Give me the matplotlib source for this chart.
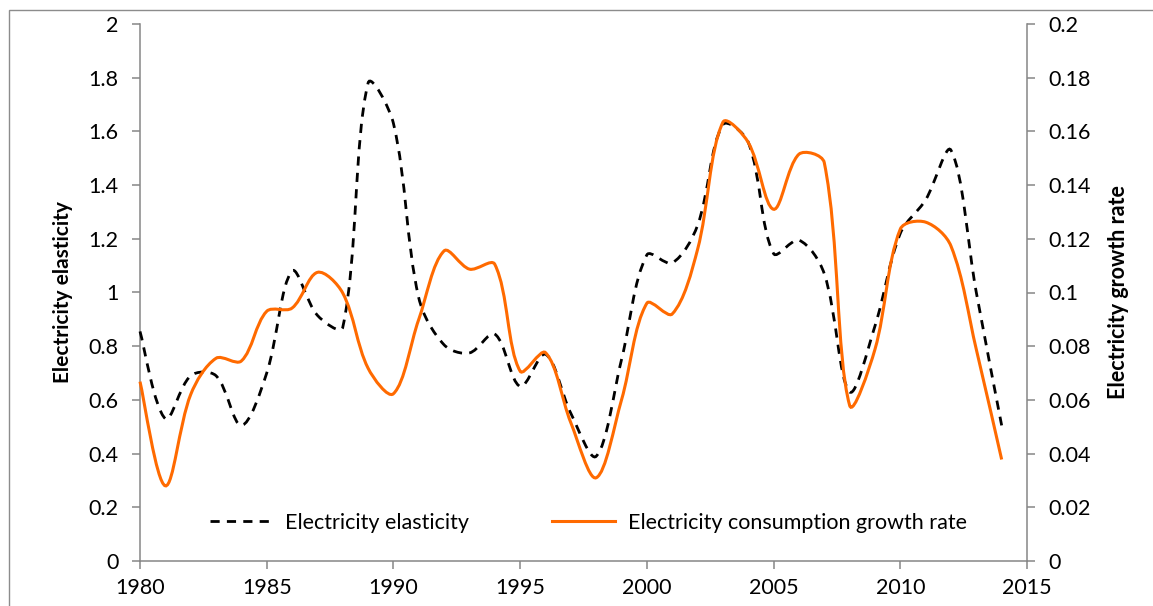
import numpy as np
import matplotlib
matplotlib.use('Agg')
import matplotlib.pyplot as plt
from matplotlib.path import Path
from matplotlib.patches import PathPatch, Rectangle
from matplotlib.lines import Line2D
from matplotlib.ticker import FuncFormatter, MultipleLocator

# ── Data ─────────────────────────────────────────────────────────────
years = list(range(1980, 2015))
elasticity = [0.855, 0.53, 0.69, 0.69, 0.505, 0.70, 1.08, 0.915, 0.87, 1.78,
              1.63, 0.98, 0.805, 0.775, 0.845, 0.65, 0.77, 0.55, 0.39, 0.75,
              1.14, 1.11, 1.25, 1.625, 1.56, 1.145, 1.195, 1.07, 0.63, 0.875,
              1.22, 1.345, 1.53, 1.0, 0.505]
growth_rate = [0.0668, 0.028, 0.062, 0.0755, 0.0745, 0.093, 0.0942, 0.1075, 0.0998, 0.0718,
               0.0623, 0.090, 0.1155, 0.1087, 0.1105, 0.0707, 0.0776, 0.0515, 0.031, 0.060,
               0.096, 0.092, 0.116, 0.1634, 0.1559, 0.131, 0.1515, 0.1484, 0.058, 0.0788,
               0.1236, 0.1262, 0.1173, 0.0788, 0.0378]

LABEL_EL = "Electricity elasticity"
LABEL_GR = "Electricity consumption growth rate"
YLABEL_L = "Electricity elasticity"
YLABEL_R = "Electricity growth rate"

ORANGE = "#FF6A00"
GRAY = "#868686"
FS = 15.5

plt.rcParams.update({
    'font.family': ['Lato', 'DejaVu Sans'],
    'font.size': FS,
})


def smooth_path(ax, x, y):
    """Excel-style smoothed line: chord-weighted Catmull-Rom as cubic Beziers.
    Chord lengths are measured in display pixels."""
    x = np.asarray(x, float)
    y = np.asarray(y, float)
    pts = np.column_stack([x, y])
    disp = ax.transData.transform(pts)
    n = len(pts)
    verts = [tuple(pts[0])]
    codes = [Path.MOVETO]
    for i in range(n - 1):
        i0, i3 = max(i - 1, 0), min(i + 2, n - 1)
        p0, p1, p2, p3 = pts[i0], pts[i], pts[i + 1], pts[i3]
        d01 = np.hypot(*(disp[i] - disp[i0]))
        d12 = np.hypot(*(disp[i + 1] - disp[i]))
        d23 = np.hypot(*(disp[i3] - disp[i + 1]))
        f1 = d12 / (d01 + d12) if d01 > 0 else 0.5
        f2 = d12 / (d12 + d23) if d23 > 0 else 0.5
        c1 = p1 + (p2 - p0) * f1 / 3.0
        c2 = p2 - (p3 - p1) * f2 / 3.0
        verts += [tuple(c1), tuple(c2), tuple(p2)]
        codes += [Path.CURVE4] * 3
    return Path(verts, codes)


fig = plt.figure(figsize=(11.53, 6.06), dpi=100)
ax = fig.add_axes([140 / 1153, 1 - 561 / 606, 887 / 1153, 537 / 606])
ax2 = ax.twinx()

ax.set_xlim(1980, 2015)
ax.set_ylim(0, 2)
ax2.set_ylim(0, 0.2)

# elasticity on left axis
ax.add_patch(PathPatch(smooth_path(ax, years, elasticity), fill=False, edgecolor='black',
                       lw=2.0, linestyle=(0, (3.3, 2.6)), capstyle='butt',
                       clip_on=False, zorder=4))
# growth rate on right axis
ax2.add_patch(PathPatch(smooth_path(ax2, years, growth_rate), fill=False, edgecolor=ORANGE,
                        lw=2.2, clip_on=False, zorder=3))

ax.xaxis.set_major_locator(MultipleLocator(5))
ax.yaxis.set_major_locator(MultipleLocator(0.2))
ax2.yaxis.set_major_locator(MultipleLocator(0.02))
ax.yaxis.set_major_formatter(FuncFormatter(lambda v, p: f"{round(v, 3):g}"))
ax2.yaxis.set_major_formatter(FuncFormatter(lambda v, p: f"{round(v, 4):g}"))

for a in (ax, ax2):
    a.spines['top'].set_visible(False)
    for s in a.spines.values():
        s.set_color(GRAY)
        s.set_linewidth(1.1)
ax.spines['right'].set_visible(False)
ax2.spines['left'].set_visible(False)
ax2.spines['bottom'].set_visible(False)

ax.tick_params(axis='both', direction='out', length=5.5, width=1.1, color=GRAY,
               labelsize=FS, labelcolor='black')
ax.tick_params(axis='y', pad=10)
ax.tick_params(axis='x', pad=7)
ax2.tick_params(axis='y', direction='out', length=5.5, width=1.1, color=GRAY,
                labelsize=FS, labelcolor='black', pad=10)

ax.set_ylabel(YLABEL_L, fontsize=15, fontweight='bold', labelpad=11)
ax2.set_ylabel(YLABEL_R, fontsize=15.5, fontweight='bold', rotation=90, labelpad=12)

handles = [Line2D([], [], color='black', lw=2.0, linestyle=(0, (3.3, 2.6))),
           Line2D([], [], color=ORANGE, lw=2.2)]
ax.legend(handles, [LABEL_EL, LABEL_GR], loc='center left',
          bbox_to_anchor=(70 / 887, 38 / 537), ncol=2, frameon=False,
          borderpad=0, borderaxespad=0, handlelength=2.9, handletextpad=0.6,
          columnspacing=3.85, fontsize=FS)

# outer chart-area border
fig.patches.append(Rectangle((8.5 / 1153, -0.1), 1.2, 1 - 10 / 606 + 0.1,
                             transform=fig.transFigure, fill=False,
                             edgecolor='#8c8c8c', lw=1.0, clip_on=False))

fig.savefig("out.png", dpi=100)
